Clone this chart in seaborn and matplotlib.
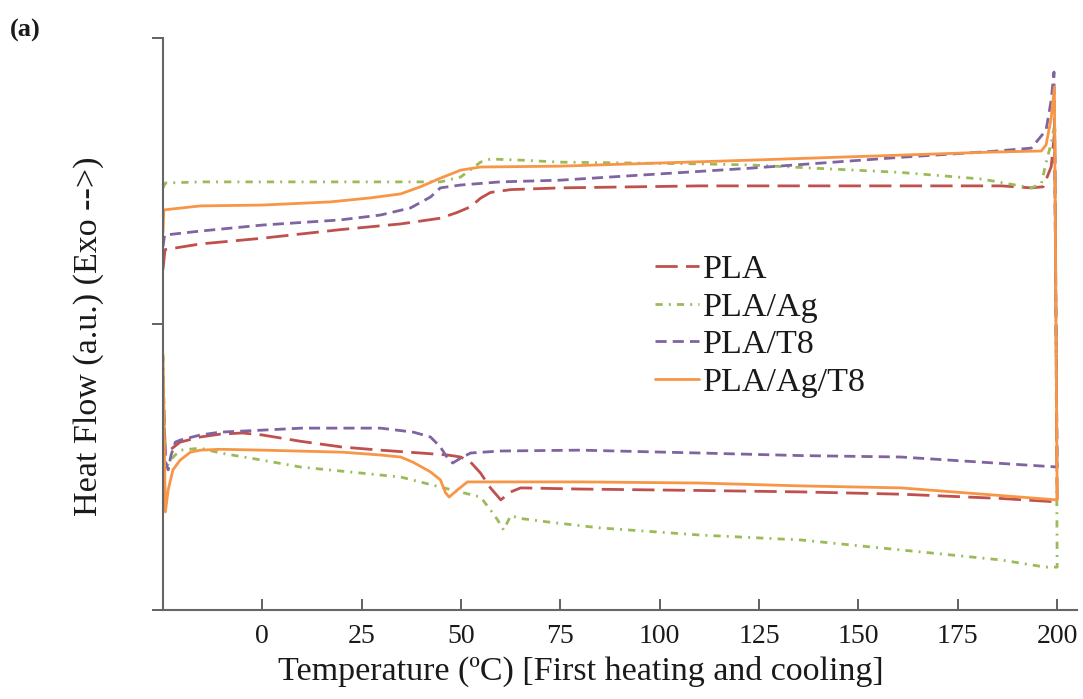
import numpy as np
import pandas as pd
import matplotlib
matplotlib.use("Agg")
import matplotlib.pyplot as plt
import seaborn as sns

# DSC first heating (-25 -> 200 C) followed by cooling (200 -> -25 C), a.u.
pla_temp = [-25.0, -24.5, -15.6, 0.0, 19.6, 34.8, 44.8, 49.0, 52.4, 54.9, 57.4, 62.5, 75.0,
            110.0, 160.0, 186.0, 193.5, 196.5, 198.5, 199.4,
            200.0, 185.9, 160.7, 135.5, 110.0, 80.0, 65.0, 62.5, 60.0, 57.4, 54.9, 52.4,
            49.9, 46.6, 39.8, 29.7, 20.0, 9.6, 0.0, -5.0, -10.6, -15.6, -20.7, -23.2,
            -24.4, -25.0]
pla_hf = [1.19, 1.26, 1.28, 1.30, 1.33, 1.35, 1.37, 1.39, 1.41, 1.44, 1.46, 1.47, 1.476,
          1.483, 1.483, 1.483, 1.476, 1.48, 1.55, 1.68,
          0.378, 0.39, 0.405, 0.413, 0.418, 0.423, 0.427, 0.413, 0.385, 0.427, 0.479, 0.517,
          0.535, 0.542, 0.549, 0.559, 0.57, 0.59, 0.612, 0.619, 0.615, 0.605, 0.587, 0.56,
          0.542, 0.78]

pla_ag_temp = [-25.0, -24.4, -15.6, 0.0, 34.8, 44.8, 49.9, 54.9, 57.4, 65.0, 75.0, 110.0,
               122.9, 160.7, 181.0, 193.5, 196.0, 197.2, 198.5, 199.4,
               200.0, 197.0, 185.9, 160.7, 135.5, 110.3, 85.0, 71.8, 65.0, 62.5, 60.7, 59.2,
               57.4, 54.9, 44.8, 34.8, 9.6, 0.0, -10.6, -15.6, -20.7, -23.2, -24.4, -25.0]
pla_ag_hf = [1.476, 1.493, 1.497, 1.497, 1.497, 1.497, 1.514, 1.566, 1.577, 1.573, 1.566,
             1.56, 1.556, 1.53, 1.507, 1.476, 1.49, 1.563, 1.633, 1.70,
             0.15, 0.15, 0.175, 0.21, 0.245, 0.262, 0.287, 0.308, 0.32, 0.33, 0.28, 0.315,
             0.35, 0.395, 0.43, 0.465, 0.50, 0.524, 0.549, 0.566, 0.559, 0.524, 0.49, 0.91]

pla_t8_temp = [-25.0, -24.6, -15.6, 0.0, 19.6, 29.7, 37.3, 42.3, 44.8, 49.9, 59.9, 75.0,
               122.9, 160.7, 183.0, 193.5, 197.2, 198.5, 199.2,
               200.0, 160.7, 135.5, 110.0, 80.0, 59.9, 52.4, 49.9, 47.9, 46.6, 44.8, 42.3,
               38.0, 29.7, 10.0, 0.0, -10.6, -15.6, -20.7, -21.9, -23.0, -23.7, -24.4, -25.0]
pla_t8_hf = [1.27, 1.311, 1.325, 1.346, 1.364, 1.381, 1.406, 1.444, 1.476, 1.486, 1.497,
             1.503, 1.545, 1.583, 1.603, 1.615, 1.678, 1.783, 1.881,
             0.50, 0.535, 0.54, 0.549, 0.559, 0.556, 0.549, 0.531, 0.514, 0.531, 0.57, 0.605,
             0.622, 0.636, 0.636, 0.629, 0.622, 0.612, 0.594, 0.587, 0.54, 0.49, 0.52, 0.80]

pla_ag_t8_temp = [-25.0, -24.8, -15.6, 0.0, 17.1, 27.2, 34.8, 39.8, 44.8, 49.9, 54.9, 75.0,
                  122.9, 183.0, 196.0, 197.2, 198.5, 199.3,
                  200.0, 160.7, 135.5, 110.0, 80.0, 51.6, 49.1, 47.0, 46.1, 44.8, 42.3, 37.9,
                  34.8, 29.7, 20.0, 0.0, -10.6, -15.6, -18.1, -20.7, -22.5, -23.7, -24.4, -25.0]
pla_ag_t8_hf = [1.32, 1.399, 1.413, 1.416, 1.427, 1.441, 1.455, 1.48, 1.51, 1.538, 1.549,
                1.552, 1.573, 1.601, 1.605, 1.626, 1.72, 1.829,
                0.385, 0.427, 0.434, 0.444, 0.448, 0.448, 0.42, 0.395, 0.41, 0.455, 0.483,
                0.517, 0.535, 0.542, 0.552, 0.559, 0.562, 0.559, 0.552, 0.524, 0.49, 0.42,
                0.343, 0.885]

samples = ["PLA", "PLA/Ag", "PLA/T8", "PLA/Ag/T8"]
x_ticks = [0, 25, 50, 75, 100, 125, 150, 175, 200]

palette = {"PLA": "#C0504D", "PLA/Ag": "#9BBB59", "PLA/T8": "#8064A2", "PLA/Ag/T8": "#F79646"}
dashes = {"PLA": (8, 3), "PLA/Ag": (2.6, 2.2, 0.7, 2.2), "PLA/T8": (4, 2.2), "PLA/Ag/T8": ""}

frames = []
for name, t, q in zip(samples,
                      [pla_temp, pla_ag_temp, pla_t8_temp, pla_ag_t8_temp],
                      [pla_hf, pla_ag_hf, pla_t8_hf, pla_ag_t8_hf]):
    frames.append(pd.DataFrame({"Temperature": t, "HeatFlow": q, "Sample": name}))
df = pd.concat(frames, ignore_index=True)

sns.set_theme(style="ticks")
plt.rcParams["font.family"] = ["Liberation Serif", "DejaVu Serif"]

text_color = "#1a1a1a"

fig = plt.figure(figsize=(10.83, 6.99), dpi=100)
ax = fig.add_axes([0.1505, 0.1273, 0.844, 0.8183])

sns.lineplot(data=df, x="Temperature", y="HeatFlow", hue="Sample", style="Sample",
             hue_order=samples, style_order=samples, palette=palette, dashes=dashes,
             sort=False, estimator=None, linewidth=2.0, ax=ax)

ax.set_xlim(-25, 205)
ax.set_ylim(0, 2)
ax.set_xticks(x_ticks)
ax.set_yticks([0, 1, 2])
ax.set_yticklabels([])
ax.tick_params(axis="x", direction="in", length=8, width=1.3, color="#555555",
               labelsize=20, pad=10, labelcolor=text_color)
ax.tick_params(axis="y", direction="out", length=8, width=1.3, color="#555555")

sns.despine(ax=ax)
for side in ["left", "bottom"]:
    ax.spines[side].set_color("#666666")
    ax.spines[side].set_linewidth(1.5)

ax.set_xlabel("Temperature (ºC) [First heating and cooling]", fontsize=24.5,
              color=text_color)
ax.xaxis.set_label_coords(0.457, -0.08)
ax.set_ylabel("Heat Flow (a.u.) (Exo -->)", fontsize=24.5, color=text_color)
ax.yaxis.set_label_coords(-0.065, 0.478)

leg = ax.legend(loc="upper left", bbox_to_anchor=(0.538, 0.622), frameon=False,
                fontsize=24.5, handlelength=1.3, handletextpad=0.12, labelspacing=0.2,
                borderpad=0, borderaxespad=0)
for text in leg.get_texts():
    text.set_color(text_color)

fig.text(0.009, 0.948, "(a)", fontsize=19, fontweight="bold", color=text_color)

fig.savefig("out.png", dpi=100)
plt.close(fig)
